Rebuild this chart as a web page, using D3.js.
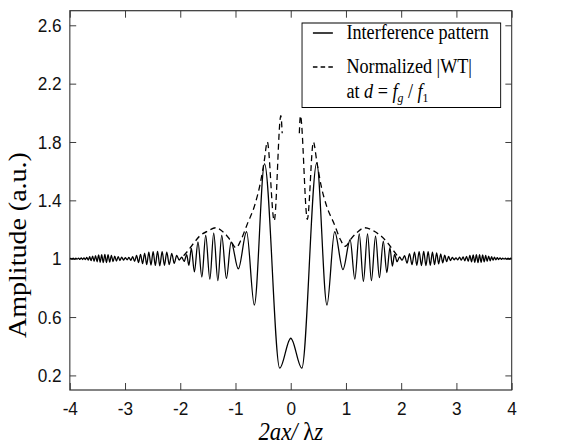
<!DOCTYPE html>
<html>
<head>
<meta charset="utf-8">
<script src="https://cdn.jsdelivr.net/npm/d3@7"></script>
<style>
  body { margin: 0; background: #fff; }
  svg { display: block; }
</style>
</head>
<body>
<div id="chart"></div>
<script>
const xTicks = [-4, -3, -2, -1, 0, 1, 2, 3, 4]
const xTickLabels = ["-4", "-3", "-2", "-1", "0", "1", "2", "3", "4"]
const yTicks = [0.2, 0.6, 1, 1.4, 1.8, 2.2, 2.6]
const yTickLabels = ["0.2", "0.6", "1", "1.4", "1.8", "2.2", "2.6"]

// interference pattern - extrema, centre outwards
const patternRight = [
  [0.000, 0.455], [0.200, 0.250], [0.470, 1.655], [0.655, 0.683], [0.795, 1.185],
  [0.945, 0.925], [1.075, 1.130], [1.160, 0.860], [1.240, 1.170], [1.315, 0.845],
  [1.390, 1.170], [1.460, 0.850], [1.535, 1.155], [1.605, 0.870], [1.675, 1.120],
  [1.740, 0.905], [1.795, 1.075], [1.840, 0.950], [1.880, 1.030], [1.925, 0.980],
  [1.970, 1.012], [2.015, 0.990], [2.060, 1.020], [2.105, 0.970], [2.150, 1.035],
  [2.195, 0.960], [2.240, 1.045], [2.282, 0.955], [2.324, 1.048], [2.366, 0.953],
  [2.407, 1.050], [2.447, 0.953], [2.487, 1.048], [2.526, 0.955], [2.565, 1.045],
  [2.603, 0.960], [2.641, 1.040], [2.678, 0.965], [2.715, 1.032], [2.751, 0.972],
  [2.787, 1.024], [2.822, 0.980], [2.857, 1.015], [2.891, 0.988], [2.925, 1.008],
  [2.958, 0.993], [2.991, 1.006], [3.024, 0.992], [3.056, 1.010], [3.088, 0.990],
  [3.120, 1.012], [3.151, 0.986], [3.182, 1.016], [3.213, 0.982], [3.243, 1.022],
  [3.273, 0.978], [3.303, 1.026], [3.332, 0.975], [3.361, 1.028], [3.390, 0.974],
  [3.418, 1.028], [3.446, 0.975], [3.474, 1.026], [3.502, 0.978], [3.529, 1.022],
  [3.556, 0.982], [3.583, 1.018], [3.610, 0.986], [3.636, 1.014], [3.662, 0.990],
  [3.688, 1.010], [3.714, 0.993], [3.739, 1.007], [3.764, 0.995], [3.789, 1.005],
  [3.814, 0.996], [3.838, 1.004], [3.862, 0.997], [3.886, 1.004], [3.910, 0.997],
  [3.934, 1.003], [3.958, 0.998], [3.981, 1.003], [4.000, 1.000]
]

const patternLeft = [
  [-0.200, 0.250], [-0.475, 1.650], [-0.660, 0.683], [-0.800, 1.185],
  [-0.950, 0.930], [-1.080, 1.115], [-1.165, 0.865], [-1.250, 1.160], [-1.320, 0.850],
  [-1.395, 1.175], [-1.465, 0.860], [-1.540, 1.160], [-1.610, 0.875], [-1.680, 1.115],
  [-1.745, 0.910], [-1.800, 1.070], [-1.845, 0.955], [-1.885, 1.028], [-1.930, 0.982],
  [-1.975, 1.010], [-2.020, 0.990], [-2.065, 1.022], [-2.110, 0.968], [-2.155, 1.036],
  [-2.200, 0.960], [-2.245, 1.045], [-2.287, 0.955], [-2.329, 1.048], [-2.371, 0.952],
  [-2.412, 1.050], [-2.452, 0.954], [-2.492, 1.048], [-2.531, 0.956], [-2.570, 1.044],
  [-2.608, 0.960], [-2.646, 1.038], [-2.683, 0.966], [-2.720, 1.030], [-2.756, 0.974],
  [-2.792, 1.022], [-2.827, 0.982], [-2.862, 1.014], [-2.896, 0.989], [-2.930, 1.008],
  [-2.963, 0.993], [-2.996, 1.007], [-3.029, 0.991], [-3.061, 1.011], [-3.093, 0.988],
  [-3.125, 1.014], [-3.156, 0.984], [-3.187, 1.018], [-3.218, 0.980], [-3.248, 1.023],
  [-3.278, 0.977], [-3.308, 1.027], [-3.337, 0.974], [-3.366, 1.029], [-3.395, 0.974],
  [-3.423, 1.028], [-3.451, 0.976], [-3.479, 1.025], [-3.507, 0.979], [-3.534, 1.021],
  [-3.561, 0.983], [-3.588, 1.017], [-3.615, 0.987], [-3.641, 1.013], [-3.667, 0.991],
  [-3.693, 1.009], [-3.719, 0.994], [-3.744, 1.006], [-3.769, 0.995], [-3.794, 1.005],
  [-3.819, 0.996], [-3.843, 1.004], [-3.867, 0.997], [-3.891, 1.003], [-3.915, 0.997],
  [-3.939, 1.003], [-3.963, 0.998], [-3.985, 1.002], [-4.000, 1.000]
]

// normalized |WT| at d = fg/f1
const envelopeRight = [
  [0.155, 1.86], [0.175, 1.98], [0.300, 1.27], [0.410, 1.80], [0.470, 1.67],
  [0.550, 1.50], [0.650, 1.36], [0.790, 1.235], [0.900, 1.13], [0.985, 1.085],
  [1.100, 1.14], [1.200, 1.18], [1.340, 1.212], [1.500, 1.19], [1.650, 1.15],
  [1.750, 1.11], [1.850, 1.06], [1.930, 1.02]
]

const envelopeLeft = [
  [-0.155, 1.86], [-0.180, 1.98], [-0.300, 1.26], [-0.425, 1.80], [-0.480, 1.67],
  [-0.550, 1.52], [-0.650, 1.37], [-0.790, 1.235], [-0.900, 1.13], [-0.990, 1.075],
  [-1.100, 1.13], [-1.200, 1.175], [-1.360, 1.212], [-1.500, 1.19], [-1.650, 1.155],
  [-1.750, 1.11], [-1.850, 1.06], [-1.940, 1.02]
]

const width = 577
const height = 448
// the figure is drawn a bit wider and squeezed sideways, like the original
const squeeze = 0.907
const margin = {top: 10.7, right: 72, bottom: 58, left: 77}
const graphWidth = width / squeeze - margin.left - margin.right
const graphHeight = height - margin.top - margin.bottom

const serif = "'Liberation Serif', 'Times New Roman', serif"
const sans = "'Liberation Sans', Arial, sans-serif"

const svg = d3.select("#chart").append("svg")
    .attr("width", width)
    .attr("height", height)

const root = svg.append("g").attr("transform", `scale(${squeeze}, 1)`)

const graph = root.append("g")
    .attr("transform", `translate(${margin.left}, ${margin.top})`)

//scales
const x = d3.scaleLinear().domain([-4, 4]).range([0, graphWidth])
const y = d3.scaleLinear().domain([0.1, 2.7]).range([graphHeight, 0])

graph.append("clipPath").attr("id", "clip")
  .append("rect").attr("width", graphWidth).attr("height", graphHeight)

// axes, ticks pointing inwards on all four sides
const tickLen = 7
const xAxis = d3.axisBottom(x).tickValues(xTicks).tickSizeInner(-tickLen).tickSizeOuter(0).tickPadding(12)
    .tickFormat((d, i) => xTickLabels[i])
const xAxisTop = d3.axisTop(x).tickValues(xTicks).tickSizeInner(-tickLen).tickSizeOuter(0).tickFormat("")
const yAxis = d3.axisLeft(y).tickValues(yTicks).tickSizeInner(-tickLen).tickSizeOuter(0).tickPadding(9)
    .tickFormat((d, i) => yTickLabels[i])
const yAxisRight = d3.axisRight(y).tickValues(yTicks).tickSizeInner(-tickLen).tickSizeOuter(0).tickFormat("")

graph.append("g").attr("transform", `translate(0, ${graphHeight})`).call(xAxis)
graph.append("g").call(xAxisTop)
graph.append("g").call(yAxis)
graph.append("g").attr("transform", `translate(${graphWidth}, 0)`).call(yAxisRight)

graph.selectAll(".domain").remove()
graph.selectAll(".tick line").attr("stroke", "#333").attr("stroke-width", 1)
graph.selectAll(".tick text")
    .attr("font-family", sans)
    .attr("font-size", 19)
    .attr("fill", "#111")

graph.append("rect")
    .attr("width", graphWidth)
    .attr("height", graphHeight)
    .attr("fill", "none")
    .attr("stroke", "#333")
    .attr("stroke-width", 1.2)

// lines
const line = d3.line()
    .x(d => x(d[0]))
    .y(d => y(d[1]))
    .curve(d3.curveMonotoneX)

const pattern = d3.sort(patternLeft.concat(patternRight), d => d[0])
const lines = graph.append("g").attr("clip-path", "url(#clip)")

lines.append("path")
    .attr("d", line(pattern))
    .attr("fill", "none")
    .attr("stroke", "#000")
    .attr("stroke-width", 1.4)

;[envelopeLeft, envelopeRight].forEach(env => {
  lines.append("path")
      .attr("d", line(d3.sort(env, d => d[0])))
      .attr("fill", "none")
      .attr("stroke", "#000")
      .attr("stroke-width", 1.4)
      .attr("stroke-dasharray", "6,4")
})

// legend
const legend = root.append("g").attr("transform", "translate(333, 23)")
legend.append("rect")
    .attr("width", 219)
    .attr("height", 84.5)
    .attr("fill", "#fff")
    .attr("stroke", "#000")
    .attr("stroke-width", 1)

legend.append("line")
    .attr("x1", 12).attr("x2", 34).attr("y1", 10).attr("y2", 10)
    .attr("stroke", "#000").attr("stroke-width", 1.5)
legend.append("line")
    .attr("x1", 12).attr("x2", 34).attr("y1", 44).attr("y2", 44)
    .attr("stroke", "#000").attr("stroke-width", 1.5)
    .attr("stroke-dasharray", "5,3.5")

const legendText = legend.append("g")
    .attr("font-family", serif)
    .attr("font-size", 20)
    .attr("fill", "#000")

legendText.append("text").attr("x", 49).attr("y", 16).text("Interference pattern")
legendText.append("text").attr("x", 49).attr("y", 50).text("Normalized |WT|")
const t3 = legendText.append("text").attr("x", 49).attr("y", 75)
t3.append("tspan").text("at ")
t3.append("tspan").attr("font-style", "italic").text("d")
t3.append("tspan").text(" = ")
t3.append("tspan").attr("font-style", "italic").text("f")
t3.append("tspan").attr("font-size", 13).attr("dy", 4).attr("font-style", "italic").text("g")
t3.append("tspan").attr("dy", -4).text(" / ")
t3.append("tspan").attr("font-style", "italic").text("f")
t3.append("tspan").attr("font-size", 13).attr("dy", 4).text("1")

// axis titles
const xTitle = root.append("text")
    .attr("x", margin.left + graphWidth / 2)
    .attr("y", 440)
    .attr("text-anchor", "middle")
    .attr("font-family", serif)
    .attr("font-size", 25)
xTitle.append("tspan").attr("font-style", "italic").text("2ax/ ")
xTitle.append("tspan").text("λ")
xTitle.append("tspan").attr("font-style", "italic").text("z")

root.append("text")
    .attr("transform", "translate(29, 245) rotate(-90)")
    .attr("text-anchor", "middle")
    .attr("font-family", serif)
    .attr("font-size", 28)
    .text("Amplitude (a.u.)")
</script>
</body>
</html>
